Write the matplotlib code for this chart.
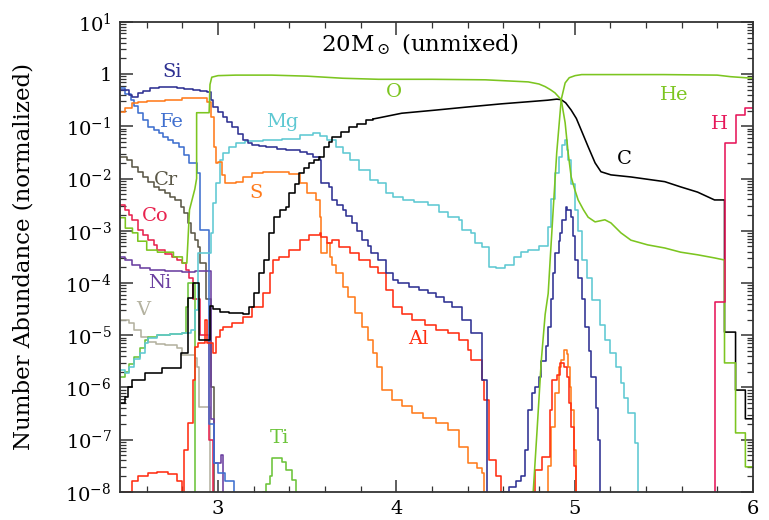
import numpy as np
import matplotlib
matplotlib.use("Agg")
import matplotlib.pyplot as plt
from matplotlib.ticker import FixedLocator, FuncFormatter, NullFormatter

plt.rcParams["font.family"] = ["DejaVu Serif"]
plt.rcParams["mathtext.fontset"] = "dejavuserif"

# mass coordinate (M_sun) and log10 number abundance
si_x = [2.45, 2.50, 2.52, 2.55, 2.58, 2.62, 2.67, 2.73, 2.77, 2.81, 2.86, 2.90, 2.94, 2.96, 2.97,
        3.00, 3.03, 3.05, 3.08, 3.11, 3.14, 3.17, 3.19, 3.23, 3.27, 3.33, 3.38, 3.46, 3.50, 3.53,
        3.57, 3.58, 3.62, 3.64, 3.67, 3.70, 3.72, 3.75, 3.78, 3.81, 3.84, 3.86, 3.90, 3.94, 3.98,
        4.01, 4.07, 4.13, 4.18, 4.22, 4.27, 4.31, 4.37, 4.42, 4.48, 4.51,
        4.59, 4.63, 4.67, 4.70, 4.72, 4.74, 4.76, 4.78, 4.80, 4.81, 4.84, 4.85, 4.87, 4.88, 4.89,
        4.91, 4.92, 4.93, 4.95, 4.96, 4.98, 4.99, 5.00, 5.02, 5.04, 5.06, 5.08, 5.09, 5.12, 5.13, 5.14]
si_log = [-0.30, -0.40, -0.44, -0.36, -0.32, -0.27, -0.25, -0.25, -0.27, -0.28, -0.30, -0.32, -0.34, -0.50, -0.63,
          -0.72, -0.82, -0.92, -1.01, -1.14, -1.26, -1.32, -1.36, -1.38, -1.40, -1.43, -1.45, -1.49, -1.53, -1.58,
          -1.64, -2.08, -2.16, -2.41, -2.50, -2.60, -2.72, -2.85, -3.00, -3.18, -3.30, -3.43, -3.56, -3.80, -3.94,
          -4.00, -4.08, -4.13, -4.20, -4.27, -4.36, -4.46, -4.71, -4.96, -5.86, -9,
          -8.0, -7.9, -7.8, -7.7, -7.2, -6.43, -6.1, -5.99, -5.8, -5.5, -5.2, -4.84, -4.3, -3.8, -3.43,
          -3.2, -3.04, -2.8, -2.54, -2.6, -2.74, -3.1, -3.56, -3.9, -4.3, -4.84, -5.3, -5.8, -6.4, -7.0, -9]

fe_x = [2.45, 2.48, 2.51, 2.53, 2.55, 2.58, 2.61, 2.64, 2.67, 2.69, 2.72, 2.75, 2.78, 2.81, 2.84,
        2.88, 2.90, 2.95, 2.975, 3.00, 3.04, 3.09]
fe_log = [-0.27, -0.38, -0.50, -0.62, -0.75, -0.88, -1.01, -1.07, -1.13, -1.20, -1.26, -1.32, -1.39, -1.55, -1.70,
          -1.90, -2.98, -6.7, -7.45, -7.64, -7.8, -9]

cr_x = [2.45, 2.49, 2.52, 2.55, 2.58, 2.61, 2.64, 2.67, 2.70, 2.73, 2.76, 2.79, 2.81, 2.83, 2.85,
        2.87, 2.885, 2.90, 2.93, 2.96, 2.98]
cr_log = [-1.59, -1.65, -1.78, -1.88, -1.97, -2.06, -2.16, -2.22, -2.28, -2.35, -2.41, -2.55, -2.66, -2.85, -3.05,
          -3.18, -3.31, -3.62, -4.3, -6.0, -9]

co_x = [2.45, 2.48, 2.50, 2.52, 2.55, 2.58, 2.61, 2.64, 2.66, 2.70, 2.74, 2.77, 2.80, 2.82, 2.84,
        2.86, 2.90, 2.95, 2.97]
co_log = [-2.5, -2.6, -2.7, -2.79, -2.98, -3.08, -3.18, -3.28, -3.37, -3.45, -3.5, -3.56, -3.62, -3.75, -3.9,
          -4.3, -5.0, -7.0, -9]

ni_x = [2.45, 2.48, 2.52, 2.56, 2.62, 2.70, 2.80, 2.87, 2.96, 2.975, 3.015, 3.03]
ni_log = [-3.5, -3.56, -3.65, -3.72, -3.75, -3.77, -3.79, -3.77, -6.6, -7.45, -7.3, -9]

v_x = [2.45, 2.50, 2.53, 2.57, 2.61, 2.65, 2.70, 2.77, 2.80, 2.87, 2.88, 2.895, 2.955]
v_log = [-4.71, -4.77, -4.9, -5.03, -5.13, -5.16, -5.19, -5.25, -5.38, -5.44, -5.6, -6.38, -9]

mg_x = [2.45, 2.48, 2.50, 2.53, 2.56, 2.59, 2.61, 2.66, 2.73, 2.80, 2.85, 2.87, 2.89, 2.94, 2.96,
        2.97, 2.99, 3.01, 3.03, 3.06, 3.10, 3.15, 3.25, 3.36, 3.46, 3.53, 3.57, 3.61, 3.66, 3.70,
        3.74, 3.79, 3.85, 3.90, 3.94, 3.98, 4.04, 4.10, 4.18, 4.24, 4.29, 4.35, 4.37, 4.42, 4.44,
        4.48, 4.52, 4.56, 4.61, 4.66, 4.70, 4.74, 4.80, 4.85, 4.87, 4.89, 4.91, 4.93, 4.945, 4.955,
        4.965, 4.98, 5.00, 5.02, 5.04, 5.07, 5.10, 5.14, 5.17, 5.20, 5.23, 5.26, 5.28, 5.30, 5.34, 5.355]
mg_log = [-5.67, -5.73, -5.6, -5.45, -5.34, -5.15, -5.05, -5.0, -4.98, -4.96, -4.9, -4.52, -3.43, -3.43, -3.04,
          -2.47, -2.08, -1.64, -1.51, -1.40, -1.32, -1.28, -1.26, -1.24, -1.16, -1.12, -1.18, -1.26, -1.39, -1.51,
          -1.64, -1.83, -2.03, -2.08, -2.28, -2.36, -2.41, -2.45, -2.5, -2.64, -2.73, -2.79, -2.98, -3.04, -3.23,
          -3.31, -3.69, -3.71, -3.66, -3.5, -3.41, -3.37, -3.3, -2.93, -2.4, -1.9, -1.58, -1.35, -1.26, -1.45,
          -1.64, -2.1, -2.6, -3.0, -3.56, -3.9, -4.33, -4.8, -5.1, -5.34, -5.6, -5.92, -6.2, -6.49, -7.07, -9]

s_x = [2.45, 2.48, 2.52, 2.55, 2.60, 2.70, 2.80, 2.88, 2.94, 2.96, 2.975, 2.99, 3.00, 3.02, 3.04,
       3.07, 3.10, 3.14, 3.19, 3.25, 3.33, 3.40, 3.46, 3.50, 3.55, 3.57, 3.58, 3.61, 3.63, 3.64,
       3.66, 3.70, 3.73, 3.77, 3.81, 3.84, 3.87, 3.89, 3.92, 3.975, 4.03, 4.09, 4.15, 4.22, 4.29,
       4.35, 4.40, 4.45, 4.48, 4.49,
       4.85, 4.87, 4.89, 4.91, 4.925, 4.94, 4.955, 4.965, 4.975, 4.98, 4.995, 5.01]
s_log = [-0.72, -0.65, -0.56, -0.53, -0.51, -0.49, -0.46, -0.46, -0.53, -0.82, -1.39, -1.70, -1.68, -1.93, -2.08,
         -2.08, -2.06, -1.97, -1.90, -1.88, -1.88, -1.92, -2.08, -2.28, -2.41, -2.73, -3.43, -3.23, -3.5, -3.65,
         -3.81, -4.07, -4.27, -4.57, -4.84, -5.1, -5.34, -5.6, -6.05, -6.24, -6.35, -6.49, -6.58, -6.68, -6.82,
         -7.14, -7.45, -7.55, -7.64, -9,
         -7.5, -6.76, -6.1, -5.6, -5.47, -5.28, -5.35, -5.6, -6.0, -6.43, -7.2, -9]

al_x = [2.45, 2.48, 2.52, 2.55, 2.61, 2.66, 2.72, 2.77, 2.80, 2.81, 2.83, 2.86, 2.87, 2.89, 2.925,
        2.94, 2.97, 2.99, 3.01, 3.03, 3.08, 3.14, 3.19, 3.25, 3.29, 3.31, 3.34, 3.40, 3.46, 3.51,
        3.57, 3.58, 3.61, 3.64, 3.68, 3.74, 3.79, 3.85, 3.90, 3.94, 3.98, 4.03, 4.09, 4.16, 4.22,
        4.29, 4.35, 4.40, 4.42, 4.48, 4.49, 4.52, 4.56, 4.59,
        4.76, 4.78, 4.82, 4.86, 4.875, 4.90, 4.92, 4.94, 4.955, 4.97, 4.98, 4.995, 5.01]
al_log = [-9, -8.0, -7.8, -7.7, -7.64, -7.62, -7.65, -7.8, -8.1, -7.2, -6.68, -5.86, -5.22, -5.15, -4.71,
          -5.15, -5.34, -5.03, -4.9, -4.85, -4.77, -4.65, -4.46, -4.2, -3.81, -3.56, -3.5, -3.37, -3.18, -3.08,
          -3.04, -3.12, -3.23, -3.18, -3.31, -3.43, -3.56, -3.69, -3.81, -4.13, -4.46, -4.6, -4.71, -4.8, -4.9,
          -4.96, -5.09, -5.28, -5.47, -5.86, -6.24, -7.39, -7.7, -9,
          -8.0, -7.58, -7.33, -6.43, -5.86, -5.76, -5.53, -5.6, -5.8, -6.3, -6.76, -7.5, -9]

ti_x = [2.45, 2.48, 2.50, 2.53, 2.56, 2.59, 2.61, 2.66, 2.73, 2.80, 2.82, 2.83, 2.87,
        3.25, 3.27, 3.29, 3.305, 3.36, 3.38, 3.415, 3.44]
ti_log = [-5.8, -5.7, -5.55, -5.42, -5.25, -5.09, -5.03, -5.0, -4.98, -4.96, -4.46, -4.0, -9,
          -8.0, -7.85, -7.7, -7.36, -7.43, -7.58, -7.77, -9]

o_x = [2.45, 2.48, 2.48, 2.52, 2.52, 2.55, 2.55, 2.60, 2.60, 2.66, 2.66, 2.75, 2.75, 2.80, 2.80,
       2.825, 2.84, 2.87, 2.88, 2.88, 2.95, 2.955, 2.965, 3.00, 3.10, 3.30, 3.50, 3.70, 3.90, 4.20,
       4.50, 4.74, 4.80, 4.835, 4.865, 4.89, 4.925, 4.947, 4.964, 4.981, 5.00, 5.02, 5.05, 5.076, 5.115,
       5.17, 5.204, 5.26, 5.316, 5.41, 5.506, 5.595, 5.69, 5.785, 5.841, 5.841, 5.903, 5.903, 5.958, 5.958, 6.0]
o_log = [-2.75, -2.75, -2.95, -2.95, -3.04, -3.04, -3.2, -3.2, -3.37, -3.37, -3.41, -3.41, -3.5, -3.5, -3.62,
         -3.62, -2.6, -2.2, -2.0, -0.74, -0.74, -0.2, -0.06, -0.03, -0.02, -0.02, -0.04, -0.08, -0.10, -0.10,
         -0.11, -0.15, -0.19, -0.24, -0.30, -0.36, -0.49, -0.93, -1.51, -1.97, -2.2, -2.41, -2.6, -2.74, -2.83,
         -2.79, -2.85, -3.04, -3.18, -3.27, -3.33, -3.41, -3.46, -3.52, -3.56, -5.53, -5.53, -6.87, -6.87, -7.52, -7.52]

he_x = [4.75, 4.768, 4.79, 4.813, 4.835, 4.852, 4.863, 4.88, 4.90, 4.925, 4.947, 4.97, 5.003, 5.04, 5.13,
        5.50, 5.80, 5.875, 6.0]
he_log = [-9, -8, -6.8, -5.5, -4.6, -4.2, -3.56, -2.6, -1.5, -0.49, -0.17, -0.07, -0.03, -0.01, -0.01,
          -0.01, -0.02, -0.05, -0.08]

c_core_x = [2.45, 2.478, 2.495, 2.517, 2.59, 2.685, 2.79, 2.83, 2.86, 2.895, 2.955, 2.97, 3.01, 3.06, 3.14,
            3.176, 3.204, 3.232, 3.26, 3.288, 3.316, 3.35, 3.383, 3.40, 3.43, 3.456, 3.48, 3.511, 3.54, 3.567,
            3.595, 3.62, 3.64, 3.69, 3.735, 3.78, 3.83, 3.87]
c_core_log = [-6.3, -6.18, -6.0, -5.85, -5.73, -5.63, -5.34, -4.29, -4.0, -5.1, -4.45, -4.5, -4.55, -4.58, -4.6,
              -4.46, -4.2, -3.8, -3.56, -3.04, -2.73, -2.6, -2.54, -2.28, -2.1, -1.9, -1.8, -1.7, -1.64, -1.58,
              -1.4, -1.3, -1.2, -1.1, -1.01, -0.95, -0.88, -0.86]
c_shell_x = [3.87, 3.90, 4.03, 4.22, 4.40, 4.59, 4.74, 4.85, 4.90, 4.925, 4.95, 4.981, 5.01, 5.037, 5.076,
             5.115, 5.148, 5.204, 5.316, 5.506, 5.595, 5.69, 5.785, 5.841, 5.841, 5.903, 5.903, 5.958, 5.958, 6.0]
c_shell_log = [-0.86, -0.84, -0.75, -0.69, -0.63, -0.57, -0.53, -0.50, -0.48, -0.49, -0.55, -0.69, -0.85, -1.07, -1.39,
               -1.7, -1.87, -1.93, -1.97, -2.06, -2.16, -2.26, -2.41, -2.41, -4.94, -4.94, -6.05, -6.05, -6.6, -6.6]

h_x = [5.70, 5.785, 5.841, 5.903, 5.958, 6.0]
h_log = [-9, -4.36, -1.32, -0.78, -0.65, -0.65]

x_ticks = [3, 4, 5, 6]
y_decades = [-8, -7, -6, -5, -4, -3, -2, -1, 0, 1]

green = "#7cc520"
curves = [
    (v_x, v_log, "#b4b2a0", "steps-post"),
    (cr_x, cr_log, "#5b5847", "steps-post"),
    (co_x, co_log, "#e8234f", "steps-post"),
    (ni_x, ni_log, "#6b3fa0", "steps-post"),
    (ti_x, ti_log, "#6cc43a", "steps-post"),
    (fe_x, fe_log, "#3f6fcf", "steps-post"),
    (mg_x, mg_log, "#5ec8d2", "steps-post"),
    (s_x, s_log, "#ff7b1c", "steps-post"),
    (al_x, al_log, "#ff2d12", "steps-post"),
    (si_x, si_log, "#2e3192", "steps-post"),
    (c_core_x, c_core_log, "black", "steps-post"),
    (c_shell_x, c_shell_log, "black", "default"),
    (o_x, o_log, green, "default"),
    (he_x, he_log, green, "default"),
    (h_x, h_log, "#e6175a", "steps-post"),
]

# label: text, x, log10 y, colour
labels = [
    ("Si", 2.74, 0.04, "#2e3192"), ("Fe", 2.74, -0.92, "#3f6fcf"), ("Cr", 2.71, -2.03, "#5b5847"),
    ("Co", 2.645, -2.72, "#e8234f"), ("Ni", 2.67, -4.0, "#6b3fa0"), ("V", 2.58, -4.52, "#b4b2a0"),
    ("S", 3.215, -2.28, "#ff7b1c"), ("Mg", 3.36, -0.92, "#5ec8d2"), ("O", 3.986, -0.34, green),
    ("He", 5.56, -0.40, green), ("H", 5.81, -0.95, "#e6175a"), ("C", 5.277, -1.62, "black"),
    ("Al", 4.126, -5.07, "#ff2d12"), ("Ti", 3.344, -6.97, "#6cc43a"),
]

fig = plt.figure(figsize=(7.69, 5.2), dpi=100)
ax = fig.add_axes([0.156, 0.054, 0.823, 0.904])
for x, lg, col, ds in curves:
    ax.plot(x, np.power(10.0, lg), color=col, lw=1.15, drawstyle=ds)

ax.set_yscale("log")
ax.set_xlim(2.45, 6.0)
ax.set_ylim(1e-8, 10)

for txt, x, lg, col in labels:
    ax.text(x, 10 ** lg, txt, color=col, fontsize=14, ha="center", va="center")
ax.text(4.13, 10 ** 0.56, r"20M$_\odot$ (unmixed)", fontsize=16.5, ha="center", va="center")

def decade(v, pos):
    e = int(round(np.log10(v)))
    return "1" if e == 0 else r"$10^{%d}$" % e

major_y = [10.0 ** e for e in y_decades]
minor_y = [m * 10.0 ** e for e in y_decades[:-1] for m in range(2, 10)]
ax.yaxis.set_major_locator(FixedLocator(major_y))
ax.yaxis.set_minor_locator(FixedLocator(minor_y))
ax.yaxis.set_major_formatter(FuncFormatter(decade))
ax.yaxis.set_minor_formatter(NullFormatter())
ax.xaxis.set_major_locator(FixedLocator(x_ticks))
ax.xaxis.set_minor_locator(FixedLocator(np.arange(2.6, 6.0, 0.2)))

ax.tick_params(which="both", direction="in", top=True, right=True, colors="#333333", labelcolor="black")
ax.tick_params(which="major", length=9, width=1.1, labelsize=14, pad=6)
ax.tick_params(which="minor", length=4.5, width=0.9)
for sp in ax.spines.values():
    sp.set_color("#333333")
    sp.set_linewidth(1.3)

ax.set_ylabel("Number Abundance (normalized)", fontsize=16.5, labelpad=22)

fig.savefig("out.png", dpi=100)
